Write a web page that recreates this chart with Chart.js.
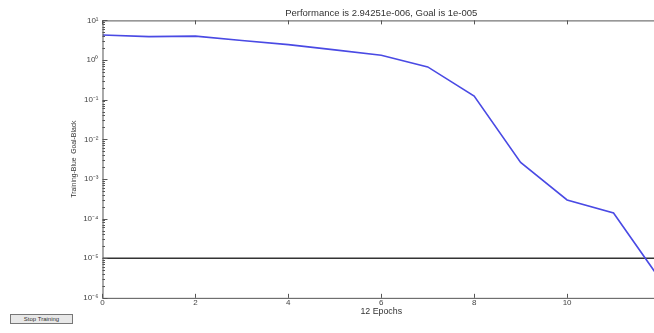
<!DOCTYPE html>
<html>
<head>
<meta charset="utf-8">
<script src="https://cdn.jsdelivr.net/npm/chart.js@4/dist/chart.umd.min.js"></script>
<style>
  html, body { margin: 0; padding: 0; background: #fff; }
  .wrap { position: relative; width: 654px; height: 333px; overflow: hidden; }
  .box { position: absolute; left: 0; top: 0; width: 666px; height: 333px; }
  #stop_training {
    position: absolute; left: 10px; top: 314px; width: 63px; height: 10px;
    padding: 0; margin: 0; font: 6px "Liberation Sans", Arial, sans-serif;
    color: #333; background: #e8e8e8; border: 1px solid #777; line-height: 8px;
  }
</style>
</head>
<body>
<div class="wrap">
  <div class="box"><canvas id="perfchart" width="666" height="333"></canvas></div>
  <button id="stop_training">Stop Training</button>
</div>
<script>
// training record (12 epochs)
var epochs = [0, 1, 2, 3, 4, 5, 6, 7, 8, 9, 10, 11, 12];
var train_perf = [4.3, 3.9, 4.0, 3.1, 2.45, 1.8, 1.32, 0.67, 0.123, 0.0026, 0.000295, 0.000138, 0.00000294251];
var goal = 1e-5;
var goal_epochs = [0, 12];
var y_decades = [-6, -5, -4, -3, -2, -1, 0, 1];
var x_ticks = [0, 2, 4, 6, 8, 10, 12];

var sup = { "0": "\u2070", "1": "\u00b9", "2": "\u00b2", "3": "\u00b3", "4": "\u2074",
  "5": "\u2075", "6": "\u2076", "7": "\u2077", "8": "\u2078", "9": "\u2079", "-": "\u207b" };
function power_label(v) {
  var e = String(Math.round(Math.log10(v)));
  var s = "";
  for (var i = 0; i < e.length; i++) s += sup[e[i]];
  return "10" + s;
}

var train_points = [];
for (let i = 0; i < epochs.length; i++) {
  train_points.push({ x: epochs[i], y: train_perf[i] });
}
var goal_points = goal_epochs.map(function (e) { return { x: e, y: goal }; });

// matlab style box with inward ticks
var matlab_box = {
  id: "matlab_box",
  afterDraw: function (chart) {
    var ctx = chart.ctx;
    var a = chart.chartArea;
    var xs = chart.scales.x, ys = chart.scales.y;
    ctx.save();
    ctx.strokeStyle = "#555";
    ctx.lineWidth = 1;
    ctx.strokeRect(a.left + 0.5, a.top + 0.5, a.right - a.left, a.bottom - a.top);
    ctx.beginPath();
    x_ticks.forEach(function (t) {
      var px = Math.round(xs.getPixelForValue(t)) + 0.5;
      ctx.moveTo(px, a.bottom); ctx.lineTo(px, a.bottom - 4);
      ctx.moveTo(px, a.top); ctx.lineTo(px, a.top + 4);
    });
    y_decades.forEach(function (e) {
      for (let k = 1; k < 10; k++) {
        var v = k * Math.pow(10, e);
        if (v > ys.max * 1.0001) break;
        var py = Math.round(ys.getPixelForValue(v)) + 0.5;
        var len = k == 1 ? 5 : 2.5;
        ctx.moveTo(a.left, py); ctx.lineTo(a.left + len, py);
        ctx.moveTo(a.right, py); ctx.lineTo(a.right - len, py);
      }
    });
    ctx.stroke();
    ctx.restore();
  }
};

Chart.defaults.font.family = "'Liberation Sans', Arial, sans-serif";
Chart.defaults.color = "#444";

var chart1 = document.getElementById("perfchart");
var myChart1 = new Chart(chart1, {
  type: "line",
  data: {
    datasets: [
      {
        data: train_points,
        borderColor: "#4a4ae4",
        borderWidth: 1.6,
        pointRadius: 0,
        fill: false,
        tension: 0,
      },
      {
        data: goal_points,
        borderColor: "#333",
        borderWidth: 1.6,
        pointRadius: 0,
        fill: false,
      },
    ],
  },
  options: {
    animation: false,
    responsive: false,
    layout: { padding: { left: 70, right: 6, top: 0, bottom: 16 } },
    plugins: {
      legend: { display: false },
      tooltip: { enabled: false },
      title: {
        display: true,
        fullSize: false,
        text: "Performance is 2.94251e-006, Goal is 1e-005",
        font: { size: 9.5, weight: "normal" },
        color: "#333",
        padding: { top: 8, bottom: 1 },
      },
    },
    scales: {
      x: {
        type: "linear",
        min: 0,
        max: 12,
        grid: { display: false, drawTicks: false },
        border: { display: false },
        afterBuildTicks: function (axis) {
          axis.ticks = x_ticks.map(function (v) { return { value: v }; });
        },
        ticks: { padding: 0, font: { size: 8 }, maxRotation: 0 },
        title: {
          display: true,
          text: "12 Epochs",
          font: { size: 8.8 },
          color: "#333",
          padding: { top: -1, bottom: 0 },
        },
      },
      y: {
        type: "logarithmic",
        min: 1e-6,
        max: 10,
        grid: { display: false, drawTicks: false },
        border: { display: false },
        afterBuildTicks: function (axis) {
          axis.ticks = y_decades.map(function (e) { return { value: Math.pow(10, e) }; });
        },
        ticks: {
          padding: 4,
          font: { size: 8 },
          callback: function (v) { return power_label(v); },
        },
        title: {
          display: true,
          text: "Training-Blue  Goal-Black",
          font: { size: 6.8 },
          color: "#333",
          padding: { top: 0, bottom: 1 },
        },
      },
    },
  },
  plugins: [matlab_box],
});
</script>
</body>
</html>
